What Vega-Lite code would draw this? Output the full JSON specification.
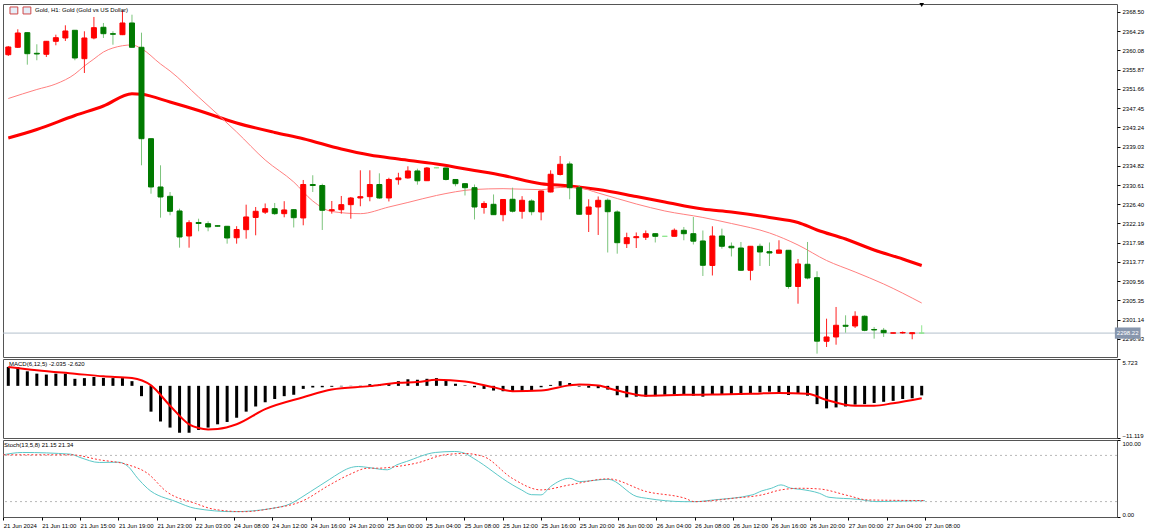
{
 "$schema": "https://vega.github.io/schema/vega-lite/v6.json",
 "padding": {"left": 2, "top": 2, "right": 0, "bottom": 0},
 "background": "white",
 "spacing": 2,
 "bounds": "flush",
 "resolve": {"scale": {"y": "independent"}},
 "config": {
  "font": "Liberation Sans",
  "view": {"stroke": "#555555", "strokeWidth": 1},
  "axis": {"labelFontSize": 6, "labelFont": "Liberation Sans", "labelColor": "#000000", "tickColor": "#000000", "tickSize": 3, "labelPadding": 2, "grid": false, "domain": false, "title": null, "labelOverlap": false}
 },
 "datasets": {
  "candles": [
   {"i":0,"o":2359.11,"h":2361.02,"l":2358.83,"c":2360.80,"d":"up"},
   {"i":1,"o":2360.73,"h":2364.67,"l":2360.58,"c":2363.86,"d":"up"},
   {"i":2,"o":2363.93,"h":2364.00,"l":2356.93,"c":2359.33,"d":"down"},
   {"i":3,"o":2359.42,"h":2361.39,"l":2357.89,"c":2359.27,"d":"down"},
   {"i":4,"o":2359.20,"h":2362.11,"l":2358.61,"c":2362.04,"d":"up"},
   {"i":5,"o":2362.04,"h":2363.49,"l":2361.17,"c":2362.83,"d":"up"},
   {"i":6,"o":2362.77,"h":2365.54,"l":2362.11,"c":2364.30,"d":"up"},
   {"i":7,"o":2364.45,"h":2364.50,"l":2357.89,"c":2358.39,"d":"down"},
   {"i":8,"o":2358.24,"h":2364.23,"l":2355.11,"c":2362.77,"d":"up"},
   {"i":9,"o":2362.77,"h":2367.36,"l":2362.48,"c":2365.02,"d":"up"},
   {"i":10,"o":2365.11,"h":2366.05,"l":2362.77,"c":2363.71,"d":"down"},
   {"i":11,"o":2363.71,"h":2364.23,"l":2361.30,"c":2363.58,"d":"down"},
   {"i":12,"o":2363.49,"h":2368.74,"l":2363.40,"c":2366.05,"d":"up"},
   {"i":13,"o":2366.05,"h":2367.86,"l":2360.70,"c":2360.73,"d":"down"},
   {"i":14,"o":2360.73,"h":2363.93,"l":2334.92,"c":2340.74,"d":"down"},
   {"i":15,"o":2340.74,"h":2340.80,"l":2328.71,"c":2330.18,"d":"down"},
   {"i":16,"o":2330.18,"h":2334.92,"l":2323.46,"c":2327.99,"d":"down"},
   {"i":17,"o":2328.14,"h":2329.08,"l":2323.99,"c":2324.86,"d":"down"},
   {"i":18,"o":2324.93,"h":2325.43,"l":2316.90,"c":2319.24,"d":"down"},
   {"i":19,"o":2319.46,"h":2322.89,"l":2316.90,"c":2322.37,"d":"up"},
   {"i":20,"o":2322.41,"h":2323.24,"l":2320.49,"c":2322.19,"d":"down"},
   {"i":21,"o":2322.15,"h":2322.67,"l":2320.49,"c":2321.43,"d":"down"},
   {"i":22,"o":2321.70,"h":2321.80,"l":2321.50,"c":2321.60,"d":"down"},
   {"i":23,"o":2321.58,"h":2321.65,"l":2317.78,"c":2319.02,"d":"down"},
   {"i":24,"o":2319.07,"h":2321.60,"l":2317.78,"c":2320.88,"d":"up"},
   {"i":25,"o":2320.84,"h":2326.31,"l":2318.87,"c":2323.62,"d":"up"},
   {"i":26,"o":2323.51,"h":2325.80,"l":2319.61,"c":2324.86,"d":"up"},
   {"i":27,"o":2324.67,"h":2326.57,"l":2324.27,"c":2325.43,"d":"up"},
   {"i":28,"o":2325.43,"h":2326.68,"l":2324.05,"c":2324.34,"d":"down"},
   {"i":29,"o":2324.34,"h":2327.07,"l":2323.55,"c":2325.15,"d":"up"},
   {"i":30,"o":2325.21,"h":2325.30,"l":2321.32,"c":2323.46,"d":"down"},
   {"i":31,"o":2323.40,"h":2331.71,"l":2321.80,"c":2330.72,"d":"up"},
   {"i":32,"o":2330.72,"h":2332.74,"l":2329.08,"c":2330.50,"d":"down"},
   {"i":33,"o":2330.50,"h":2330.90,"l":2320.77,"c":2325.08,"d":"down"},
   {"i":34,"o":2324.99,"h":2327.11,"l":2324.34,"c":2325.21,"d":"up"},
   {"i":35,"o":2325.21,"h":2328.21,"l":2324.34,"c":2326.31,"d":"up"},
   {"i":36,"o":2326.31,"h":2327.99,"l":2323.24,"c":2327.77,"d":"up"},
   {"i":37,"o":2327.77,"h":2333.83,"l":2325.96,"c":2328.06,"d":"up"},
   {"i":38,"o":2328.06,"h":2333.83,"l":2327.05,"c":2330.72,"d":"up"},
   {"i":39,"o":2330.72,"h":2333.17,"l":2327.55,"c":2327.77,"d":"down"},
   {"i":40,"o":2327.77,"h":2332.19,"l":2327.01,"c":2331.82,"d":"up"},
   {"i":41,"o":2331.77,"h":2333.28,"l":2330.68,"c":2332.15,"d":"up"},
   {"i":42,"o":2332.15,"h":2334.70,"l":2332.00,"c":2333.68,"d":"up"},
   {"i":43,"o":2333.68,"h":2334.18,"l":2330.68,"c":2331.53,"d":"down"},
   {"i":44,"o":2331.55,"h":2334.55,"l":2331.50,"c":2334.33,"d":"up"},
   {"i":45,"o":2334.38,"h":2334.45,"l":2334.30,"c":2334.38,"d":"flat"},
   {"i":46,"o":2334.33,"h":2334.40,"l":2331.60,"c":2331.82,"d":"down"},
   {"i":47,"o":2331.82,"h":2331.90,"l":2330.33,"c":2330.90,"d":"down"},
   {"i":48,"o":2330.90,"h":2331.00,"l":2328.32,"c":2330.02,"d":"down"},
   {"i":49,"o":2330.02,"h":2330.72,"l":2323.07,"c":2325.80,"d":"down"},
   {"i":50,"o":2325.69,"h":2327.05,"l":2324.34,"c":2326.57,"d":"up"},
   {"i":51,"o":2326.39,"h":2328.54,"l":2324.05,"c":2324.12,"d":"down"},
   {"i":52,"o":2324.12,"h":2327.50,"l":2322.68,"c":2327.44,"d":"up"},
   {"i":53,"o":2327.49,"h":2330.02,"l":2324.60,"c":2324.88,"d":"down"},
   {"i":54,"o":2324.86,"h":2328.17,"l":2323.24,"c":2327.27,"d":"up"},
   {"i":55,"o":2327.11,"h":2327.49,"l":2323.99,"c":2324.77,"d":"down"},
   {"i":56,"o":2324.71,"h":2329.40,"l":2322.89,"c":2329.30,"d":"up"},
   {"i":57,"o":2329.08,"h":2333.83,"l":2329.00,"c":2332.96,"d":"up"},
   {"i":58,"o":2332.91,"h":2336.96,"l":2332.70,"c":2335.14,"d":"up"},
   {"i":59,"o":2335.21,"h":2335.75,"l":2327.49,"c":2330.02,"d":"down"},
   {"i":60,"o":2330.02,"h":2330.60,"l":2324.15,"c":2324.21,"d":"down"},
   {"i":61,"o":2324.21,"h":2327.49,"l":2320.33,"c":2325.80,"d":"up"},
   {"i":62,"o":2325.80,"h":2328.10,"l":2319.68,"c":2327.27,"d":"up"},
   {"i":63,"o":2327.27,"h":2327.66,"l":2315.85,"c":2324.77,"d":"down"},
   {"i":64,"o":2324.71,"h":2325.08,"l":2315.59,"c":2317.99,"d":"down"},
   {"i":65,"o":2317.78,"h":2320.18,"l":2316.83,"c":2319.09,"d":"up"},
   {"i":66,"o":2319.09,"h":2320.23,"l":2316.83,"c":2319.31,"d":"up"},
   {"i":67,"o":2319.18,"h":2320.66,"l":2318.58,"c":2319.96,"d":"up"},
   {"i":68,"o":2319.96,"h":2320.00,"l":2318.04,"c":2319.39,"d":"down"},
   {"i":69,"o":2319.39,"h":2319.45,"l":2319.35,"c":2319.39,"d":"flat"},
   {"i":70,"o":2319.39,"h":2321.10,"l":2319.35,"c":2320.71,"d":"up"},
   {"i":71,"o":2320.71,"h":2321.43,"l":2318.52,"c":2319.96,"d":"down"},
   {"i":72,"o":2319.96,"h":2323.62,"l":2317.60,"c":2318.32,"d":"down"},
   {"i":73,"o":2318.37,"h":2320.66,"l":2310.71,"c":2313.05,"d":"down"},
   {"i":74,"o":2313.01,"h":2321.58,"l":2310.82,"c":2319.46,"d":"up"},
   {"i":75,"o":2319.46,"h":2321.06,"l":2316.68,"c":2317.21,"d":"down"},
   {"i":76,"o":2317.21,"h":2318.04,"l":2314.98,"c":2316.88,"d":"down"},
   {"i":77,"o":2316.83,"h":2318.15,"l":2311.80,"c":2311.96,"d":"down"},
   {"i":78,"o":2311.96,"h":2317.27,"l":2309.77,"c":2317.21,"d":"up"},
   {"i":79,"o":2317.21,"h":2317.78,"l":2312.90,"c":2315.96,"d":"down"},
   {"i":80,"o":2316.03,"h":2318.04,"l":2312.90,"c":2315.74,"d":"down"},
   {"i":81,"o":2315.68,"h":2318.52,"l":2315.64,"c":2316.40,"d":"up"},
   {"i":82,"o":2316.33,"h":2316.40,"l":2307.93,"c":2308.41,"d":"down"},
   {"i":83,"o":2308.41,"h":2314.43,"l":2304.65,"c":2313.34,"d":"up"},
   {"i":84,"o":2313.27,"h":2318.15,"l":2309.99,"c":2310.27,"d":"down"},
   {"i":85,"o":2310.34,"h":2311.74,"l":2293.72,"c":2296.45,"d":"down"},
   {"i":86,"o":2296.43,"h":2301.37,"l":2295.18,"c":2297.37,"d":"up"},
   {"i":87,"o":2297.37,"h":2303.93,"l":2295.68,"c":2299.93,"d":"up"},
   {"i":88,"o":2299.93,"h":2302.11,"l":2298.31,"c":2299.71,"d":"down"},
   {"i":89,"o":2299.77,"h":2302.99,"l":2299.34,"c":2301.90,"d":"up"},
   {"i":90,"o":2301.90,"h":2302.11,"l":2298.62,"c":2298.83,"d":"down"},
   {"i":91,"o":2299.01,"h":2299.56,"l":2297.00,"c":2298.90,"d":"down"},
   {"i":92,"o":2298.83,"h":2299.34,"l":2297.37,"c":2298.31,"d":"down"},
   {"i":93,"o":2298.20,"h":2298.30,"l":2298.15,"c":2298.28,"d":"up"},
   {"i":94,"o":2298.25,"h":2298.57,"l":2298.10,"c":2298.35,"d":"up"},
   {"i":95,"o":2298.09,"h":2298.35,"l":2296.87,"c":2298.31,"d":"up"},
   {"i":96,"o":2298.22,"h":2299.93,"l":2298.10,"c":2298.22,"d":"flat"}
  ],
  "maSlow": [
   {"i":0,"v":2340.89},{"i":3,"v":2342.75},{"i":7,"v":2345.82},{"i":10,"v":2347.89},{"i":13,"v":2350.58},{"i":14,"v":2350.45},{"i":17,"v":2348.77},{"i":20,"v":2346.91},{"i":24,"v":2344.17},{"i":28,"v":2342.10},{"i":31,"v":2340.74},{"i":35,"v":2338.49},{"i":38,"v":2337.18},{"i":41,"v":2336.30},{"i":45,"v":2335.21},{"i":49,"v":2333.79},{"i":52,"v":2332.69},{"i":56,"v":2330.90},{"i":59,"v":2330.40},{"i":62,"v":2329.63},{"i":66,"v":2328.10},{"i":69,"v":2326.90},{"i":73,"v":2325.36},{"i":76,"v":2324.71},{"i":80,"v":2323.51},{"i":83,"v":2322.41},{"i":85,"v":2320.77},{"i":88,"v":2318.80},{"i":91,"v":2316.40},{"i":94,"v":2314.43},{"i":96,"v":2313.01}
  ],
  "maFast": [
   {"i":0,"v":2349.53},{"i":3,"v":2351.50},{"i":5,"v":2352.71},{"i":7,"v":2354.89},{"i":8,"v":2356.64},{"i":9,"v":2358.17},{"i":10,"v":2359.70},{"i":11,"v":2360.58},{"i":13,"v":2361.24},{"i":14,"v":2360.43},{"i":16,"v":2357.08},{"i":17,"v":2355.55},{"i":20,"v":2349.86},{"i":24,"v":2342.21},{"i":27,"v":2336.08},{"i":30,"v":2331.27},{"i":32,"v":2327.11},{"i":34,"v":2324.82},{"i":37,"v":2324.34},{"i":40,"v":2325.80},{"i":42,"v":2326.79},{"i":45,"v":2328.32},{"i":49,"v":2329.63},{"i":52,"v":2329.81},{"i":56,"v":2329.59},{"i":58,"v":2330.07},{"i":60,"v":2329.96},{"i":62,"v":2328.86},{"i":66,"v":2326.46},{"i":69,"v":2324.93},{"i":73,"v":2323.51},{"i":76,"v":2322.19},{"i":80,"v":2320.12},{"i":83,"v":2317.49},{"i":86,"v":2314.10},{"i":89,"v":2311.59},{"i":92,"v":2308.96},{"i":96,"v":2304.80}
  ],
  "macd": [
   {"i":0,"h":4.04},{"i":1,"h":4.0},{"i":2,"h":3.1},{"i":3,"h":2.6},{"i":4,"h":2.4},{"i":5,"h":2.6},{"i":6,"h":2.6},{"i":7,"h":1.5},{"i":8,"h":1.65},{"i":9,"h":1.88},{"i":10,"h":1.7},{"i":11,"h":1.65},{"i":12,"h":1.65},{"i":13,"h":1.0},{"i":14,"h":-2.2},{"i":15,"h":-5.5},{"i":16,"h":-7.6},{"i":17,"h":-8.9},{"i":18,"h":-10.0},{"i":19,"h":-10.0},{"i":20,"h":-9.4},{"i":21,"h":-8.9},{"i":22,"h":-8.2},{"i":23,"h":-7.7},{"i":24,"h":-6.8},{"i":25,"h":-5.5},{"i":26,"h":-4.4},{"i":27,"h":-3.5},{"i":28,"h":-2.8},{"i":29,"h":-2.2},{"i":30,"h":-1.9},{"i":31,"h":-0.65},{"i":32,"h":-0.35},{"i":33,"h":-0.3},{"i":34,"h":-0.2},{"i":35,"h":-0.1},{"i":36,"h":-0.05},{"i":37,"h":0.05},{"i":38,"h":0.35},{"i":39,"h":0.3},{"i":40,"h":0.6},{"i":41,"h":1.0},{"i":42,"h":1.4},{"i":43,"h":1.3},{"i":44,"h":1.5},{"i":45,"h":1.65},{"i":46,"h":1.15},{"i":47,"h":0.45},{"i":48,"h":0.1},{"i":49,"h":-0.3},{"i":50,"h":-0.65},{"i":51,"h":-1.0},{"i":52,"h":-1.15},{"i":53,"h":-1.15},{"i":54,"h":-1.15},{"i":55,"h":-1.0},{"i":56,"h":-0.3},{"i":57,"h":0.2},{"i":58,"h":1.0},{"i":59,"h":0.6},{"i":60,"h":-0.15},{"i":61,"h":-0.4},{"i":62,"h":-0.5},{"i":63,"h":-0.8},{"i":64,"h":-2.0},{"i":65,"h":-2.45},{"i":66,"h":-2.3},{"i":67,"h":-2.3},{"i":68,"h":-2.2},{"i":69,"h":-1.9},{"i":70,"h":-1.85},{"i":71,"h":-1.8},{"i":72,"h":-2.1},{"i":73,"h":-2.3},{"i":74,"h":-1.95},{"i":75,"h":-1.75},{"i":76,"h":-1.85},{"i":77,"h":-1.95},{"i":78,"h":-1.75},{"i":79,"h":-1.4},{"i":80,"h":-1.25},{"i":81,"h":-1.4},{"i":82,"h":-1.95},{"i":83,"h":-1.6},{"i":84,"h":-2.1},{"i":85,"h":-3.9},{"i":86,"h":-4.8},{"i":87,"h":-4.6},{"i":88,"h":-4.4},{"i":89,"h":-4.0},{"i":90,"h":-3.9},{"i":91,"h":-3.65},{"i":92,"h":-3.4},{"i":93,"h":-3.2},{"i":94,"h":-2.8},{"i":95,"h":-2.65},{"i":96,"h":-2.035}
  ],
  "macdSig": [
   {"i":0,"s":4.04},{"i":3,"s":3.33},{"i":7,"s":2.59},{"i":10,"s":2.03},{"i":13,"s":1.66},{"i":15,"s":0.09},{"i":17,"s":-4.23},{"i":19,"s":-8.2},{"i":20,"s":-9.0},{"i":21,"s":-9.29},{"i":22,"s":-9.2},{"i":24,"s":-8.2},{"i":27,"s":-4.97},{"i":31,"s":-2.44},{"i":34,"s":-0.78},{"i":38,"s":-0.06},{"i":41,"s":0.65},{"i":43,"s":0.8},{"i":45,"s":1.3},{"i":48,"s":0.95},{"i":51,"s":-0.3},{"i":53,"s":-1.15},{"i":56,"s":-1.0},{"i":59,"s":0.1},{"i":60,"s":0.3},{"i":62,"s":0.05},{"i":64,"s":-1.0},{"i":67,"s":-2.1},{"i":71,"s":-1.9},{"i":74,"s":-1.85},{"i":78,"s":-1.7},{"i":81,"s":-1.5},{"i":84,"s":-1.7},{"i":86,"s":-3.0},{"i":89,"s":-4.25},{"i":91,"s":-4.25},{"i":93,"s":-3.7},{"i":96,"s":-2.62}
  ],
  "stMain": [
   {"i":0,"k":80.8},{"i":2,"k":83.8},{"i":7,"k":81.6},{"i":8,"k":77.3},{"i":10,"k":70.8},{"i":12,"k":71.2},{"i":13,"k":65.6},{"i":14,"k":50.3},{"i":15,"k":37.3},{"i":18,"k":19.9},{"i":20,"k":11.2},{"i":24,"k":6.9},{"i":28,"k":11.2},{"i":30,"k":17.7},{"i":31,"k":25},{"i":32,"k":33},{"i":33,"k":41},{"i":34,"k":49},{"i":35,"k":57},{"i":36,"k":63.4},{"i":37,"k":65.6},{"i":38,"k":64.3},{"i":40,"k":61.3},{"i":41,"k":67.8},{"i":42,"k":72.1},{"i":45,"k":83.8},{"i":47,"k":85.1},{"i":48,"k":83},{"i":49,"k":76},{"i":50,"k":68},{"i":51,"k":59},{"i":52,"k":50},{"i":53,"k":42},{"i":54,"k":35},{"i":55,"k":29},{"i":56,"k":28.7},{"i":57,"k":39.5},{"i":59,"k":50.3},{"i":60,"k":46},{"i":63,"k":49},{"i":66,"k":26.5},{"i":67,"k":24.3},{"i":71,"k":19.9},{"i":72,"k":19.9},{"i":74,"k":22.2},{"i":78,"k":28.7},{"i":79,"k":33.9},{"i":80,"k":37.3},{"i":81,"k":41.7},{"i":82,"k":37.5},{"i":83,"k":36},{"i":85,"k":30.8},{"i":86,"k":25.6},{"i":89,"k":23},{"i":91,"k":20},{"i":94,"k":20.8},{"i":96,"k":21.15}
  ],
  "stSig": [
   {"i":0,"s":80.8},{"i":7,"s":80.8},{"i":10,"s":74.3},{"i":13,"s":67.8},{"i":15,"s":56.9},{"i":17,"s":33},{"i":20,"s":17.7},{"i":22,"s":9.9},{"i":25,"s":6.9},{"i":28,"s":11.2},{"i":31,"s":19.9},{"i":34,"s":41.7},{"i":36,"s":54.8},{"i":38,"s":63.4},{"i":39,"s":63.4},{"i":41,"s":65.6},{"i":43,"s":69.9},{"i":46,"s":80.8},{"i":48,"s":82.5},{"i":50,"s":78.6},{"i":53,"s":50.3},{"i":56,"s":35.2},{"i":59,"s":41.7},{"i":63,"s":49.5},{"i":67,"s":33},{"i":71,"s":24.3},{"i":72,"s":19.9},{"i":76,"s":24.3},{"i":79,"s":28.7},{"i":81,"s":35.2},{"i":83,"s":37.3},{"i":85,"s":36.4},{"i":88,"s":27.8},{"i":90,"s":22.2},{"i":96,"s":21.34}
  ]
 },
 "vconcat": [
  {
   "width": 1114, "height": 353,
   "layer": [
    {
     "data": {"values": [{"p": 2298.22}]},
     "mark": {"type": "rule", "color": "#b4c0cc", "strokeWidth": 1},
     "encoding": {"y": {"field": "p", "type": "quantitative", "scale": {"domain": [2292.99, 2370.2], "nice": false, "zero": false}, "axis": {"orient": "right", "values": [2368.50, 2364.29, 2360.08, 2355.87, 2351.66, 2347.45, 2343.24, 2339.03, 2334.82, 2330.61, 2326.40, 2322.19, 2317.98, 2313.77, 2309.56, 2305.35, 2301.14, 2296.93], "format": ".2f", "labelOverlap": false, "labelSeparation": 0}}}
    },
    {
     "data": {"name": "maSlow"},
     "mark": {"type": "line", "color": "#ff0000", "strokeWidth": 3, "interpolate": "monotone", "clip": true},
     "encoding": {
      "x": {"field": "i", "type": "quantitative", "scale": {"domain": [-0.03, 116], "nice": false, "zero": false}, "axis": null},
      "y": {"field": "v", "type": "quantitative", "axis": {"orient": "right", "values": [2368.50, 2364.29, 2360.08, 2355.87, 2351.66, 2347.45, 2343.24, 2339.03, 2334.82, 2330.61, 2326.40, 2322.19, 2317.98, 2313.77, 2309.56, 2305.35, 2301.14, 2296.93], "format": ".2f", "labelOverlap": false, "labelSeparation": 0}}
     }
    },
    {
     "data": {"name": "maFast"},
     "mark": {"type": "line", "color": "#ff8080", "strokeWidth": 1, "interpolate": "monotone", "clip": true},
     "encoding": {
      "x": {"field": "i", "type": "quantitative", "axis": null},
      "y": {"field": "v", "type": "quantitative", "axis": {"orient": "right", "values": [2368.50, 2364.29, 2360.08, 2355.87, 2351.66, 2347.45, 2343.24, 2339.03, 2334.82, 2330.61, 2326.40, 2322.19, 2317.98, 2313.77, 2309.56, 2305.35, 2301.14, 2296.93], "format": ".2f", "labelOverlap": false, "labelSeparation": 0}}
     }
    },
    {
     "data": {"name": "candles"},
     "mark": {"type": "rule", "strokeWidth": 1, "clip": true},
     "encoding": {
      "x": {"field": "i", "type": "quantitative", "axis": null},
      "y": {"field": "l", "type": "quantitative", "axis": {"orient": "right", "values": [2368.50, 2364.29, 2360.08, 2355.87, 2351.66, 2347.45, 2343.24, 2339.03, 2334.82, 2330.61, 2326.40, 2322.19, 2317.98, 2313.77, 2309.56, 2305.35, 2301.14, 2296.93], "format": ".2f", "labelOverlap": false, "labelSeparation": 0}},
      "y2": {"field": "h"},
      "color": {"condition": [{"test": "datum.d === 'up'", "value": "#ff2020"}, {"test": "datum.d === 'flat'", "value": "#8ee68e"}], "value": "#7cc47c"}
     }
    },
    {
     "data": {"name": "candles"},
     "mark": {"type": "bar", "size": 5, "strokeWidth": 1, "clip": true},
     "encoding": {
      "x": {"field": "i", "type": "quantitative", "axis": null},
      "y": {"field": "o", "type": "quantitative", "axis": {"orient": "right", "values": [2368.50, 2364.29, 2360.08, 2355.87, 2351.66, 2347.45, 2343.24, 2339.03, 2334.82, 2330.61, 2326.40, 2322.19, 2317.98, 2313.77, 2309.56, 2305.35, 2301.14, 2296.93], "format": ".2f", "labelOverlap": false, "labelSeparation": 0}},
      "y2": {"field": "c"},
      "fill": {"condition": [{"test": "datum.d === 'up'", "value": "#ff0000"}, {"test": "datum.d === 'flat'", "value": "#8ee68e"}], "value": "#007a00"},
      "stroke": {"condition": [{"test": "datum.d === 'up'", "value": "#ff0000"}, {"test": "datum.d === 'flat'", "value": "#8ee68e"}], "value": "#007a00"}
     }
    },
    {
     "data": {"values": [{"x": 0.18, "x2": 1.0, "y": 2369.55, "y2": 2368.02}, {"x": 1.55, "x2": 2.37, "y": 2369.55, "y2": 2368.02}]},
     "mark": {"type": "rect", "fill": "#e6eef8", "stroke": "#d04848", "strokeWidth": 1},
     "encoding": {"x": {"field": "x", "type": "quantitative", "axis": null}, "x2": {"field": "x2"}, "y": {"field": "y", "type": "quantitative", "axis": {"orient": "right", "values": [2368.50, 2364.29, 2360.08, 2355.87, 2351.66, 2347.45, 2343.24, 2339.03, 2334.82, 2330.61, 2326.40, 2322.19, 2317.98, 2313.77, 2309.56, 2305.35, 2301.14, 2296.93], "format": ".2f", "labelOverlap": false, "labelSeparation": 0}}, "y2": {"field": "y2"}}
    },
    {
     "data": {"values": [{"x": -0.03, "y": 2370.2, "t": "Gold, H1:  Gold (Gold vs US Dollar)"}]},
     "mark": {"type": "text", "align": "left", "baseline": "top", "fontSize": 6, "dx": 27, "dy": 3, "color": "#000000"},
     "encoding": {"x": {"field": "x", "type": "quantitative", "axis": null}, "y": {"field": "y", "type": "quantitative", "axis": {"orient": "right", "values": [2368.50, 2364.29, 2360.08, 2355.87, 2351.66, 2347.45, 2343.24, 2339.03, 2334.82, 2330.61, 2326.40, 2322.19, 2317.98, 2313.77, 2309.56, 2305.35, 2301.14, 2296.93], "format": ".2f", "labelOverlap": false, "labelSeparation": 0}}, "text": {"field": "t"}}
    },
    {
     "data": {"values": [{"x": 116.3, "x2": 119.0, "y": 2299.45, "y2": 2296.99}]},
     "mark": {"type": "rect", "color": "#8796ad"},
     "encoding": {"x": {"field": "x", "type": "quantitative", "axis": null}, "x2": {"field": "x2"}, "y": {"field": "y", "type": "quantitative", "axis": {"orient": "right", "values": [2368.50, 2364.29, 2360.08, 2355.87, 2351.66, 2347.45, 2343.24, 2339.03, 2334.82, 2330.61, 2326.40, 2322.19, 2317.98, 2313.77, 2309.56, 2305.35, 2301.14, 2296.93], "format": ".2f", "labelOverlap": false, "labelSeparation": 0}}, "y2": {"field": "y2"}}
    },
    {
     "data": {"values": [{"x": 116.3, "p": 2298.22}]},
     "mark": {"type": "text", "align": "left", "baseline": "middle", "fontSize": 6, "dx": 2, "color": "#ffffff"},
     "encoding": {"x": {"field": "x", "type": "quantitative", "axis": null}, "y": {"field": "p", "type": "quantitative", "axis": {"orient": "right", "values": [2368.50, 2364.29, 2360.08, 2355.87, 2351.66, 2347.45, 2343.24, 2339.03, 2334.82, 2330.61, 2326.40, 2322.19, 2317.98, 2313.77, 2309.56, 2305.35, 2301.14, 2296.93], "format": ".2f", "labelOverlap": false, "labelSeparation": 0}}, "text": {"field": "p", "type": "quantitative", "format": ".2f"}}
    },
    {
     "data": {"values": [{"x": 96, "y": 2370.2}]},
     "mark": {"type": "point", "shape": "triangle-down", "filled": true, "color": "#000000", "size": 22, "opacity": 1, "yOffset": 1},
     "encoding": {"x": {"field": "x", "type": "quantitative", "axis": null}, "y": {"field": "y", "type": "quantitative", "axis": {"orient": "right", "values": [2368.50, 2364.29, 2360.08, 2355.87, 2351.66, 2347.45, 2343.24, 2339.03, 2334.82, 2330.61, 2326.40, 2322.19, 2317.98, 2313.77, 2309.56, 2305.35, 2301.14, 2296.93], "format": ".2f", "labelOverlap": false, "labelSeparation": 0}}}
    }
   ]
  },
  {
   "width": 1114, "height": 79,
   "layer": [
    {
     "data": {"name": "macd"},
     "mark": {"type": "bar", "size": 3, "color": "#000000", "clip": true},
     "encoding": {
      "x": {"field": "i", "type": "quantitative", "scale": {"domain": [-0.03, 116], "nice": false, "zero": false}, "axis": null},
      "y": {"field": "h", "type": "quantitative", "scale": {"domain": [-11.119, 5.723], "nice": false, "zero": false}, "axis": {"orient": "right", "values": [5.723, -11.119], "format": ".3f", "labelFlush": true}},
      "y2": {"datum": 0}
     }
    },
    {
     "data": {"name": "macdSig"},
     "mark": {"type": "line", "color": "#ff0000", "strokeWidth": 2, "interpolate": "monotone", "clip": true},
     "encoding": {
      "x": {"field": "i", "type": "quantitative", "axis": null},
      "y": {"field": "s", "type": "quantitative"}
     }
    },
    {
     "data": {"values": [{"x": -0.03, "y": 5.723, "t": "MACD(6,12,5) -2.035 -2.620"}]},
     "mark": {"type": "text", "align": "left", "baseline": "top", "fontSize": 6, "dx": 1, "dy": 2, "color": "#000000"},
     "encoding": {"x": {"field": "x", "type": "quantitative", "axis": null}, "y": {"field": "y", "type": "quantitative"}, "text": {"field": "t"}}
    }
   ]
  },
  {
   "width": 1114, "height": 77,
   "layer": [
    {
     "data": {"values": [{"lv": 80}, {"lv": 20}]},
     "mark": {"type": "rule", "color": "#b8b8b8", "strokeWidth": 1, "strokeDash": [2, 3]},
     "encoding": {"y": {"field": "lv", "type": "quantitative", "scale": {"domain": [0, 100], "nice": false, "zero": false}, "axis": {"orient": "right", "values": [100, 80, 20, 0], "format": ".2f", "labelFlush": true}}}
    },
    {
     "data": {"name": "stMain"},
     "mark": {"type": "line", "color": "#5cc8c8", "strokeWidth": 1, "interpolate": "monotone", "clip": true},
     "encoding": {
      "x": {"field": "i", "type": "quantitative", "scale": {"domain": [-0.03, 116], "nice": false, "zero": false},
       "axis": {"orient": "bottom", "values": [0,4,8,12,16,20,24,28,32,36,40,44,48,52,56,60,64,68,72,76,80,84,88,92,96], "labelExpr": "['21 Jun 2024','21 Jun 11:00','21 Jun 15:00','21 Jun 19:00','21 Jun 23:00','22 Jun 03:00','24 Jun 08:00','24 Jun 12:00','24 Jun 16:00','24 Jun 20:00','25 Jun 00:00','25 Jun 04:00','25 Jun 08:00','25 Jun 12:00','25 Jun 16:00','25 Jun 20:00','26 Jun 00:00','26 Jun 04:00','26 Jun 08:00','26 Jun 12:00','26 Jun 16:00','26 Jun 20:00','27 Jun 00:00','27 Jun 04:00','27 Jun 08:00'][round(datum.value/4)]", "labelAlign": "left", "labelOverlap": false, "labelFlush": false, "labelBound": false, "labelPadding": 2}},
      "y": {"field": "k", "type": "quantitative"}
     }
    },
    {
     "data": {"name": "stSig"},
     "mark": {"type": "line", "color": "#ff3030", "strokeWidth": 1, "strokeDash": [2, 2], "interpolate": "monotone", "clip": true},
     "encoding": {
      "x": {"field": "i", "type": "quantitative"},
      "y": {"field": "s", "type": "quantitative"}
     }
    },
    {
     "data": {"values": [{"x": -0.03, "y": 100, "t": "Stoch(13,5,8) 21.15 21.34"}]},
     "mark": {"type": "text", "align": "left", "baseline": "top", "fontSize": 6, "dx": 1, "dy": 2, "color": "#000000"},
     "encoding": {"x": {"field": "x", "type": "quantitative"}, "y": {"field": "y", "type": "quantitative"}, "text": {"field": "t"}}
    }
   ]
  }
 ]
}
